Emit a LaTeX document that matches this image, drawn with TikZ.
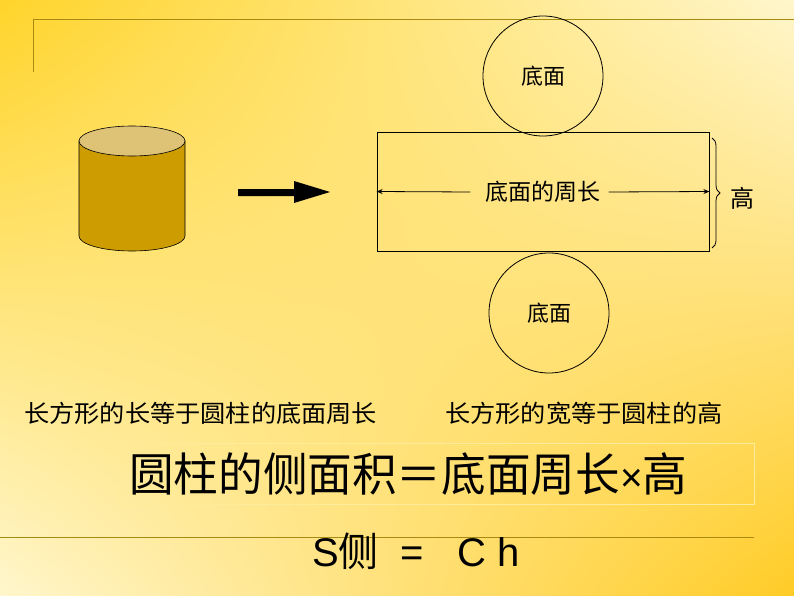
\documentclass[tikz,border=0pt]{standalone}
\usepackage{fontspec}
\setmainfont{Liberation Sans}
\newfontfamily\cjk{Noto Sans CJK SC}
\usetikzlibrary{decorations.pathreplacing,arrows.meta,shadings}
\definecolor{gold}{HTML}{FFD42A}
\definecolor{pale}{HTML}{FFF6CC}
\definecolor{olive}{HTML}{A88A10}
\definecolor{cylside}{HTML}{CC9C00}
\definecolor{cyltop}{HTML}{DEC276}
\tikzset{lbl/.style={font=\cjk\fontsize{24}{26}\selectfont, inner sep=0pt},
  circ/.style={draw=black, circle, minimum size=120pt, inner sep=0pt, font=\cjk\fontsize{22}{24}\selectfont}}
\begin{document}
\begin{tikzpicture}[x=1pt,y=-1pt]
\useasboundingbox (0,0) rectangle (794,596);
\shade[upper left=gold, upper right=pale, lower left=pale, lower right=gold!90!orange] (0,0) rectangle (794,596);
% frame lines
\draw[olive,line width=1pt] (33,72) -- (33,20) -- (794,20);
\draw[olive,line width=1pt] (0,537) -- (754,537);
% cylinder
\fill[cylside,draw=black,line width=0.6pt] (79,141) -- (79,236) arc[start angle=180,end angle=0,x radius=53,y radius=15] -- (185,141) -- cycle;
\fill[cyltop,draw=black,line width=0.6pt] (132,141) ellipse (53 and 15);
% big arrow
\fill[black] (238,189) -- (294,189) -- (294,181) -- (330,192) -- (294,203) -- (294,196) -- (238,196) -- cycle;
% rectangle and circles
\node[draw=black,minimum width=332pt,minimum height=119pt,inner sep=0pt,line width=0.8pt] (rect) at (543,191.5) {};
\node[circ,line width=0.8pt] (top) at (543,76) {底面};
\node[circ,line width=0.8pt] (bot) at (549,313) {底面};
\node[lbl,font=\cjk\fontsize{23}{25}\selectfont] (per) at (543,192) {底面的周长};
\draw[-{Stealth[length=6pt,width=5pt]},line width=0.8pt] (per.west) ++(-15,0) -- (rect.west);
\draw[-{Stealth[length=6pt,width=5pt]},line width=0.8pt] (per.east) ++(8,0) -- (rect.east);
\coordinate (b1) at (712,138);
\coordinate (b2) at (712,248);
\draw[decorate,decoration={brace,amplitude=8pt},line width=0.8pt] (b1) -- (b2);
\node[lbl] (h) at (742,198) {高};
\node[lbl,anchor=west,xscale=1.05] (t1) at (24,413) {长方形的长等于圆柱的底面周长};
\node[lbl,anchor=west,xscale=1.05] (t2) at (445,413) {长方形的宽等于圆柱的高};
\draw[pale!70!gold,line width=0.6pt] (119,443) rectangle (754,504);
\node[inner sep=0pt,anchor=west,xscale=0.97,font=\cjk\fontsize{46}{48}\selectfont] (f) at (129,474) {圆柱的侧面积＝底面周长{\fontspec{Liberation Sans}\fontsize{40}{42}\selectfont×}高};
\node[inner sep=0pt,font=\fontsize{40}{42}\selectfont] (s) at (416,551) {S{\cjk 侧}\ \ =\ \ \ C\ h};
\end{tikzpicture}
\end{document}
